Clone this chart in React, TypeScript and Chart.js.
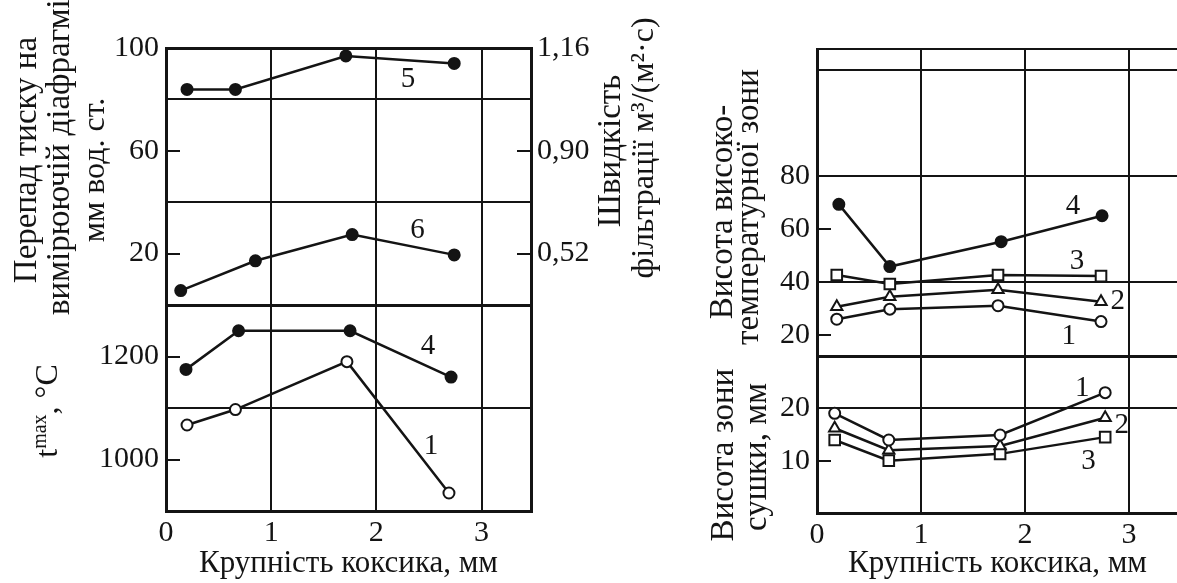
import { useEffect, useRef } from 'react';
import { Chart, registerables } from 'chart.js';

Chart.register(...registerables);

const INK = '#141414';
const CLEAR = 'rgba(0,0,0,0)';
const SERIF = '"Liberation Serif", "Times New Roman", serif';
const TICK_FONT = 30;

// Coke particle size, mm (shared x axis)
const sizeTicks = [0, 1, 2, 3];
const SIZE_MAX = 3.47;

// Left panel, upper block: pressure drop on the orifice (5) and filtration (6)
const size5 = [0.2, 0.66, 1.71, 2.74];
const drop5 = [83.9, 83.9, 96.9, 94.0];
const size6 = [0.14, 0.85, 1.77, 2.74];
const drop6 = [5.6, 17.2, 27.4, 19.5];
const dropLabels = [100, 60, 20];
const dropGrid = [0, 40, 80, 100];
const velocityLabels = ['1,16', '0,90', '0,52'];

// Left panel, lower block: maximum temperature, °C
const sizeT4 = [0.19, 0.69, 1.75, 2.71];
const tmax4 = [1175, 1250, 1250, 1160];
const sizeT1 = [0.2, 0.66, 1.72, 2.69];
const tmax1 = [1067, 1097, 1190, 935];
const tmaxLabels = [1200, 1000];
const tmaxGrid = [900, 1100, 1300];

// Right panel, upper block: height of the high-temperature zone
const sizeH4 = [0.21, 0.7, 1.77, 2.74];
const sizeH = [0.19, 0.7, 1.74, 2.73];
const hot4 = [69.3, 45.8, 55.2, 65.0];
const hot3 = [42.6, 39.2, 42.6, 42.2];
const hot2 = [30.6, 34.4, 37.0, 32.5];
const hot1 = [25.9, 29.7, 31.0, 25.0];
const hotLabels = [80, 60, 40, 20];
const hotGrid = [12, 40, 80, 120, 128];

// Right panel, lower block: height of the drying zone, mm
const sizeD = [0.17, 0.69, 1.76, 2.77];
const dry1 = [19.05, 13.95, 14.9, 23.0];
const dry2 = [16.2, 12.0, 12.8, 18.2];
const dry3 = [13.95, 10.0, 11.3, 14.5];
const dryLabels = [20, 10];
const dryGrid = [0, 20, 30];

// Curve numbers, placed in data units of the given axis
const leftNumbers = [
  { text: '5', x: 2.3, y: 87.8, axis: 'yP' },
  { text: '6', x: 2.39, y: 29.2, axis: 'yP' },
  { text: '4', x: 2.49, y: 1219, axis: 'yT' },
  { text: '1', x: 2.52, y: 1026, axis: 'yT' },
];
const rightNumbers = [
  { text: '4', x: 2.46, y: 68.4, axis: 'yH' },
  { text: '3', x: 2.5, y: 47.6, axis: 'yH' },
  { text: '2', x: 2.89, y: 32.5, axis: 'yH' },
  { text: '1', x: 2.42, y: 19.3, axis: 'yH' },
  { text: '1', x: 2.55, y: 23.8, axis: 'yD' },
  { text: '2', x: 2.93, y: 16.8, axis: 'yD' },
  { text: '3', x: 2.61, y: 9.9, axis: 'yD' },
];

const has = (arr: number[], v: number) => arr.some((a) => Math.abs(a - v) < 1e-6);

type AxisCfg = {
  min: number;
  max: number;
  labels: number[];
  grid: number[];
  position: 'left' | 'right';
  stack: string;
  stackWeight: number;
  weight: number;
  width: number;
  thick?: number[];
  drawGrid?: boolean;
  text?: (v: number) => string;
};

function valueAxis(cfg: AxisCfg) {
  const all = Array.from(new Set([cfg.min, cfg.max, ...cfg.grid, ...cfg.labels])).sort((a, b) => a - b);
  return {
    type: 'linear',
    position: cfg.position,
    stack: cfg.stack,
    stackWeight: cfg.stackWeight,
    weight: cfg.weight,
    min: cfg.min,
    max: cfg.max,
    afterBuildTicks: (s: any) => {
      s.ticks = all.map((v) => ({ value: v }));
    },
    afterFit: (s: any) => {
      s.width = cfg.width;
    },
    border: { display: true, color: INK, width: 3 },
    grid: {
      drawOnChartArea: cfg.drawGrid !== false,
      drawTicks: true,
      tickLength: -14,
      color: (c: any) => (has(cfg.grid, c.tick.value) ? INK : CLEAR),
      lineWidth: (c: any) => (has(cfg.thick ?? [], c.tick.value) ? 3 : 2),
      tickColor: (c: any) =>
        has(cfg.labels, c.tick.value) && !has(cfg.grid, c.tick.value) ? INK : CLEAR,
      tickWidth: 2,
    },
    ticks: {
      autoSkip: false,
      padding: cfg.position === 'left' ? 21 : 20,
      color: INK,
      font: { family: SERIF, size: TICK_FONT },
      callback: (v: number) => (has(cfg.labels, v) ? (cfg.text ? cfg.text(v) : String(v)) : ''),
    },
  };
}

function sizeAxis(height: number) {
  const all = [...sizeTicks, SIZE_MAX];
  return {
    type: 'linear',
    position: 'bottom',
    min: 0,
    max: SIZE_MAX,
    afterBuildTicks: (s: any) => {
      s.ticks = all.map((v) => ({ value: v }));
    },
    afterFit: (s: any) => {
      s.height = height;
      s.paddingLeft = 0;
      s.paddingRight = 0;
    },
    border: { display: true, color: INK, width: 3 },
    grid: {
      drawTicks: false,
      color: INK,
      lineWidth: (c: any) => (c.tick.value === 0 || c.tick.value === SIZE_MAX ? 3 : 2),
    },
    ticks: {
      autoSkip: false,
      maxRotation: 0,
      padding: 4,
      color: INK,
      font: { family: SERIF, size: TICK_FONT },
      callback: (v: number) => (sizeTicks.includes(v) ? String(v) : ''),
    },
    title: {
      display: true,
      text: 'Крупність коксика, мм',
      color: INK,
      font: { family: SERIF, size: 31 },
      padding: { top: 0, bottom: 1 },
    },
  };
}

function series(xs: number[], ys: number[], axis: string, style: string, filled: boolean, radius: number) {
  return {
    data: xs.map((x, i) => ({ x, y: ys[i] })),
    yAxisID: axis,
    borderColor: INK,
    borderWidth: 2.5,
    pointStyle: style,
    pointRadius: radius,
    pointBorderWidth: 2,
    pointBorderColor: INK,
    pointBackgroundColor: filled ? INK : '#ffffff',
    tension: 0,
    fill: false,
  };
}

type Run = { text: string; size: number; rise?: number };
type Caption = { runs: Run[]; x: number; y: number };

// Vertical axis captions, reading bottom-to-top; x is the baseline position
function captions(items: Caption[]) {
  return {
    id: 'captions',
    afterDraw(chart: any) {
      const ctx = chart.ctx as CanvasRenderingContext2D;
      ctx.save();
      ctx.fillStyle = INK;
      ctx.textAlign = 'left';
      ctx.textBaseline = 'alphabetic';
      for (const c of items) {
        const widths = c.runs.map((r) => {
          ctx.font = `${r.size}px ${SERIF}`;
          return ctx.measureText(r.text).width;
        });
        const total = widths.reduce((a, b) => a + b, 0);
        ctx.save();
        ctx.translate(c.x, c.y);
        ctx.rotate(-Math.PI / 2);
        let cur = -total / 2;
        c.runs.forEach((r, i) => {
          ctx.font = `${r.size}px ${SERIF}`;
          ctx.fillText(r.text, cur, -(r.rise ?? 0));
          cur += widths[i];
        });
        ctx.restore();
      }
      ctx.restore();
    },
  };
}

function curveNumbers(items: { text: string; x: number; y: number; axis: string }[]) {
  return {
    id: 'curveNumbers',
    afterDatasetsDraw(chart: any) {
      const ctx = chart.ctx as CanvasRenderingContext2D;
      ctx.save();
      ctx.fillStyle = INK;
      ctx.font = `29px ${SERIF}`;
      ctx.textAlign = 'center';
      ctx.textBaseline = 'middle';
      for (const n of items) {
        ctx.fillText(n.text, chart.scales.x.getPixelForValue(n.x), chart.scales[n.axis].getPixelForValue(n.y));
      }
      ctx.restore();
    },
  };
}

function baseOptions(scales: any, padding: any) {
  return {
    responsive: false,
    maintainAspectRatio: false,
    animation: false,
    devicePixelRatio: 1,
    events: [],
    layout: { padding, autoPadding: false },
    plugins: { legend: { display: false }, tooltip: { enabled: false } },
    scales,
  };
}

function leftConfig(): any {
  return {
    type: 'line',
    data: {
      datasets: [
        series(size5, drop5, 'yP', 'circle', true, 5.5),
        series(size6, drop6, 'yP', 'circle', true, 5.5),
        series(sizeT4, tmax4, 'yT', 'circle', true, 5.5),
        series(sizeT1, tmax1, 'yT', 'circle', false, 5.5),
      ],
    },
    options: baseOptions(
      {
        x: sizeAxis(72),
        yT: valueAxis({ min: 900, max: 1300, labels: tmaxLabels, grid: tmaxGrid, position: 'left', stack: 'L', stackWeight: 206, weight: 0, width: 166, thick: [900, 1300] }),
        yP: valueAxis({ min: 0, max: 100, labels: dropLabels, grid: dropGrid, position: 'left', stack: 'L', stackWeight: 257, weight: 1, width: 166, thick: [0, 100] }),
        yV: valueAxis({
          min: 0, max: 100, labels: dropLabels, grid: [], position: 'right', stack: 'R', stackWeight: 257, weight: 0, width: 169, drawGrid: false,
          text: (v) => velocityLabels[dropLabels.indexOf(v)],
        }),
        yVb: valueAxis({ min: 900, max: 1300, labels: [], grid: [], position: 'right', stack: 'R', stackWeight: 206, weight: 1, width: 169, drawGrid: false }),
      },
      { top: 48, left: 0, right: 0, bottom: 0 },
    ),
    plugins: [
      curveNumbers(leftNumbers),
      captions([
        { runs: [{ text: 'Перепад тиску на', size: 33 }], x: 36, y: 160 },
        { runs: [{ text: 'вимірюючій діафрагмі,', size: 33 }], x: 69, y: 153 },
        { runs: [{ text: 'мм вод. ст.', size: 32 }], x: 104, y: 170 },
        { runs: [{ text: 't', size: 32 }, { text: 'max', size: 20, rise: 11 }, { text: ', °C', size: 32 }], x: 57, y: 411 },
        { runs: [{ text: 'Швидкість', size: 33 }], x: 620, y: 151 },
        { runs: [{ text: 'фільтрації м³/(м²·с)', size: 32 }], x: 653, y: 148 },
      ]),
    ],
  };
}

const RIGHT_OFFSET = 680;

function rightConfig(): any {
  return {
    type: 'line',
    data: {
      datasets: [
        series(sizeH4, hot4, 'yH', 'circle', true, 5.5),
        series(sizeH, hot3, 'yH', 'rect', false, 7.5),
        series(sizeH, hot2, 'yH', 'triangle', false, 6.5),
        series(sizeH, hot1, 'yH', 'circle', false, 5.5),
        series(sizeD, dry1, 'yD', 'circle', false, 5.5),
        series(sizeD, dry2, 'yD', 'triangle', false, 6.5),
        series(sizeD, dry3, 'yD', 'rect', false, 7.5),
      ],
    },
    options: baseOptions(
      {
        x: sizeAxis(70),
        yD: valueAxis({ min: 0, max: 30, labels: dryLabels, grid: dryGrid, position: 'left', stack: 'L', stackWeight: 157, weight: 0, width: 137, thick: [0, 30] }),
        yH: valueAxis({ min: 12, max: 128, labels: hotLabels, grid: hotGrid, position: 'left', stack: 'L', stackWeight: 307, weight: 1, width: 137, thick: [12] }),
      },
      { top: 49, left: 0, right: 2, bottom: 0 },
    ),
    plugins: [
      curveNumbers(rightNumbers),
      captions([
        { runs: [{ text: 'Висота високо-', size: 33 }], x: 732 - RIGHT_OFFSET, y: 212 },
        { runs: [{ text: 'температурної зони', size: 33 }], x: 758 - RIGHT_OFFSET, y: 207 },
        { runs: [{ text: 'Висота зони', size: 33 }], x: 733 - RIGHT_OFFSET, y: 455 },
        { runs: [{ text: 'сушки, мм', size: 33 }], x: 766 - RIGHT_OFFSET, y: 457 },
      ]),
    ],
  };
}

function Panel({ left, width, height, make }: { left: number; width: number; height: number; make: () => any }) {
  const ref = useRef<HTMLCanvasElement>(null);
  useEffect(() => {
    const chart = new Chart(ref.current as HTMLCanvasElement, make());
    return () => chart.destroy();
  }, [make]);
  return (
    <canvas
      ref={ref}
      width={width}
      height={height}
      style={{ position: 'absolute', left, top: 0, width, height }}
    />
  );
}

export default function App() {
  return (
    <div
      style={{
        position: 'fixed',
        left: 0,
        top: 0,
        width: 1177,
        height: 583,
        overflow: 'hidden',
        background: '#ffffff',
      }}
    >
      <Panel left={0} width={700} height={583} make={leftConfig} />
      <Panel left={RIGHT_OFFSET} width={500} height={583} make={rightConfig} />
    </div>
  );
}
